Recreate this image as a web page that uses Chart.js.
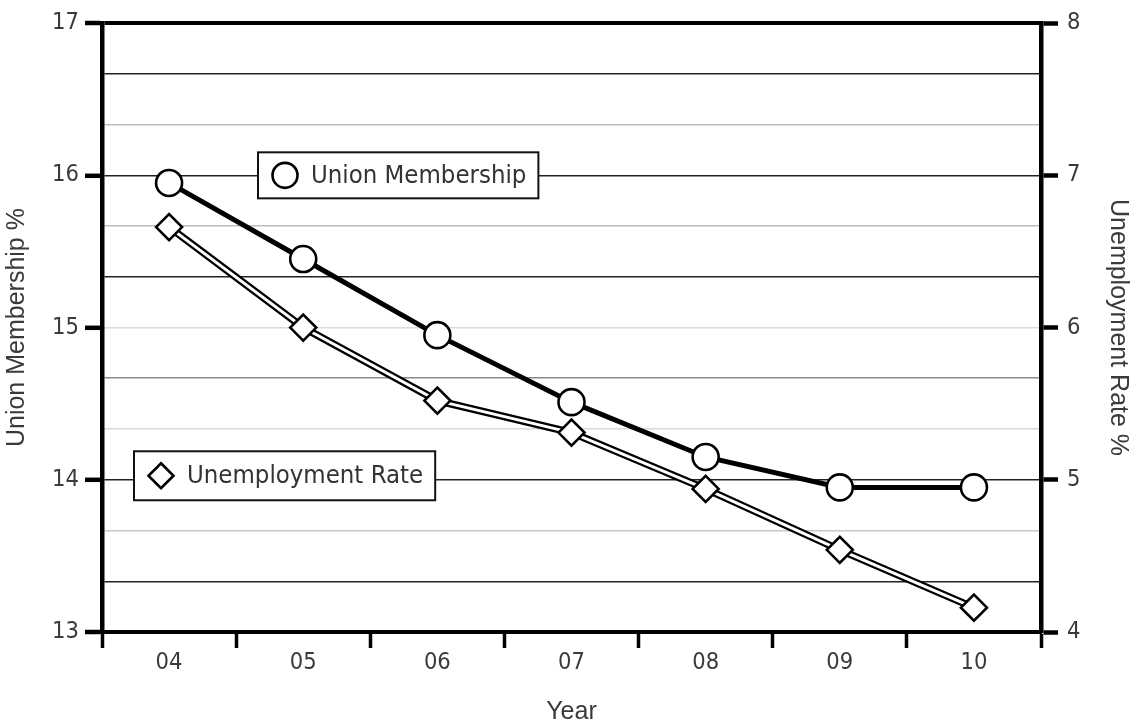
<!DOCTYPE html>
<html><head><meta charset="utf-8">
<script src="https://cdn.jsdelivr.net/npm/chart.js@4.4.1/dist/chart.umd.min.js"></script>
<style>html,body{margin:0;padding:0;background:#fff;} #wrap{width:1133px;height:725px;position:relative;}</style>
</head><body><div id="wrap"><canvas id="c" width="1133" height="725"></canvas></div>
<script>
// ---- data ----
const years = ['04', '05', '06', '07', '08', '09', '10'];
const unionMembership = [15.95, 15.45, 14.95, 14.51, 14.15, 13.95, 13.95];
const unemploymentRate = [6.66, 6.00, 5.52, 5.31, 4.94, 4.54, 4.16];
const leftTicks = [13, 14, 15, 16, 17];
const rightTicks = [4, 5, 6, 7, 8];
const gridLevels = [13, 13.333, 13.667, 14, 14.333, 14.667, 15, 15.333, 15.667, 16, 16.333, 16.667, 17];
const seriesNames = ['Union Membership', 'Unemployment Rate'];
const axisTitles = { left: 'Union Membership %', right: 'Unemployment Rate %', bottom: 'Year' };

// ---- styles ----
const gridShades = ['#000', '#222', '#c8c8c8', '#222', '#d8d8d8', '#8a8a8a', '#dcdcdc', '#222', '#bdbdbd', '#222', '#bdbdbd', '#222', '#000'];
const tickFont = { family: "'DejaVu Sans Condensed', 'DejaVu Sans', sans-serif", size: 23.5 };
const titleFont = { family: "'Liberation Sans', Arial, sans-serif", size: 25, lineHeight: 1 };
const textColor = '#3a3a3a';
const isMajor = v => leftTicks.includes(Math.round(v * 1000) / 1000);

const legendBoxes = {
  id: 'legendBoxes',
  beforeDatasetsDraw(chart) {
    const { ctx, chartArea, scales } = chart;
    const items = [
      { text: seriesNames[0], symbol: 'circle', left: chartArea.left + 156, cy: scales.y.getPixelForValue(16), h: 46 },
      { text: seriesNames[1], symbol: 'diamond', left: chartArea.left + 32, cy: scales.y.getPixelForValue(14) - 4, h: 49 }
    ];
    ctx.save();
    ctx.font = "25.5px 'DejaVu Sans Condensed', 'DejaVu Sans', sans-serif";
    items.forEach(it => {
      const tw = ctx.measureText(it.text).width;
      const w = 53 + tw + 12;
      const top = it.cy - it.h / 2;
      ctx.fillStyle = '#fff';
      ctx.fillRect(it.left, top, w, it.h);
      ctx.lineWidth = 2;
      ctx.strokeStyle = '#111';
      ctx.strokeRect(it.left, top, w, it.h);
      const sx = it.left + 27, r = 12.5;
      ctx.lineWidth = 2.6;
      ctx.strokeStyle = '#000';
      ctx.beginPath();
      if (it.symbol === 'circle') {
        ctx.arc(sx, it.cy, r, 0, Math.PI * 2);
      } else {
        ctx.moveTo(sx, it.cy - r); ctx.lineTo(sx + r, it.cy); ctx.lineTo(sx, it.cy + r); ctx.lineTo(sx - r, it.cy); ctx.closePath();
      }
      ctx.stroke();
      ctx.fillStyle = '#333';
      ctx.textBaseline = 'middle';
      ctx.textAlign = 'left';
      ctx.fillText(it.text, it.left + 53, it.cy + 1);
    });
    ctx.restore();
  }
};

new Chart(document.getElementById('c'), {
  type: 'line',
  data: {
    labels: years,
    datasets: [
      {
        label: seriesNames[0], data: unionMembership, yAxisID: 'y', order: 3,
        borderColor: '#000', borderWidth: 5, tension: 0,
        pointStyle: 'circle', pointRadius: 13, pointBorderWidth: 2.6,
        pointBackgroundColor: '#fff', pointBorderColor: '#000'
      },
      {
        label: seriesNames[1] + ' outline', data: unemploymentRate, yAxisID: 'y1', order: 2,
        borderColor: '#000', borderWidth: 7.5, tension: 0, pointRadius: 0
      },
      {
        label: seriesNames[1], data: unemploymentRate, yAxisID: 'y1', order: 1,
        borderColor: '#fff', borderWidth: 3, tension: 0,
        pointStyle: 'rectRot', pointRadius: 13, pointBorderWidth: 2.6,
        pointBackgroundColor: '#fff', pointBorderColor: '#000'
      }
    ]
  },
  options: {
    responsive: false, animation: false, devicePixelRatio: 1,
    layout: { padding: { top: 20, left: 0, right: 0, bottom: 0 } },
    plugins: { legend: { display: false }, tooltip: { enabled: false } },
    scales: {
      x: {
        type: 'category', offset: true,
        afterFit: s => { s.height = 93; },
        grid: { offset: true, drawOnChartArea: false, drawTicks: true, tickLength: 16, tickWidth: 3.5, tickColor: '#000' },
        border: { display: true, color: '#000', width: 4 },
        ticks: { font: tickFont, color: textColor, padding: 1 },
        title: { display: true, text: axisTitles.bottom, font: titleFont, color: textColor, padding: { top: 0, bottom: 0 } }
      },
      y: {
        position: 'left', min: 13, max: 17,
        afterBuildTicks: s => { s.ticks = gridLevels.map(v => ({ value: v })); },
        afterFit: s => { s.width = 102; },
        grid: {
          color: c => gridShades[c.index] || '#ccc',
          lineWidth: c => (c.index === 0 || c.index === gridLevels.length - 1) ? 4 : 1.6,
          drawTicks: true, tickLength: 17, tickWidth: 4.5,
          tickColor: c => isMajor(c.tick.value) ? '#000' : 'rgba(0,0,0,0)'
        },
        border: { display: true, color: '#000', width: 4.5 },
        ticks: {
          autoSkip: false, font: tickFont, color: textColor, padding: 6,
          callback: v => isMajor(v) ? String(Math.round(v)) : ''
        },
        title: { display: true, text: axisTitles.left, font: titleFont, color: textColor, padding: { top: 5, bottom: 0 } }
      },
      y1: {
        position: 'right', min: 4, max: 8,
        afterBuildTicks: s => { s.ticks = rightTicks.map(v => ({ value: v })); },
        afterFit: s => { s.width = 92; },
        grid: { drawOnChartArea: false, drawTicks: true, tickLength: 17, tickWidth: 4.5, tickColor: '#000' },
        border: { display: true, color: '#000', width: 4.5 },
        ticks: { autoSkip: false, font: tickFont, color: textColor, padding: 9, callback: v => String(v) },
        title: { display: true, text: axisTitles.right, font: titleFont, color: textColor, padding: { top: 3, bottom: 0 } }
      }
    }
  },
  plugins: [legendBoxes]
});
</script>
</body></html>
